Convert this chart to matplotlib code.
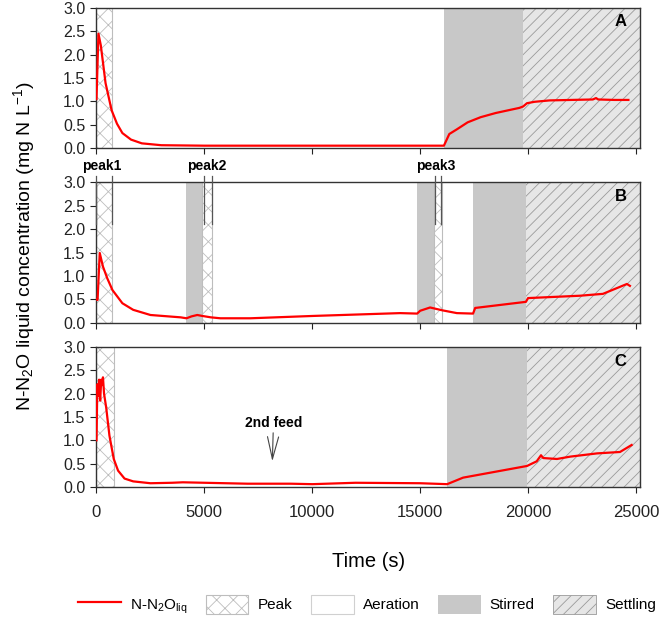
import matplotlib.pyplot as plt
from matplotlib.patches import Patch
from matplotlib.lines import Line2D

plt.rcParams['font.family'] = ['Liberation Sans', 'DejaVu Sans']
plt.rcParams['mathtext.fontset'] = 'custom'
plt.rcParams['mathtext.rm'] = 'Liberation Sans'
plt.rcParams['mathtext.it'] = 'Liberation Sans:italic'
plt.rcParams['hatch.linewidth'] = 0.6

# Panel A - N2O liquid concentration
time_a = [0, 90, 200, 420, 700, 950, 1200, 1600, 2100, 3000, 5000,
          8000, 12000, 16100, 16200, 16350, 16700, 17200, 17800, 18500, 19000, 19600,
          19770, 19950, 20300, 21000, 22000, 23000, 23150, 23250, 24000, 24650]
conc_a = [1.05, 2.45, 2.2, 1.39, 0.81, 0.52, 0.32, 0.18, 0.1, 0.06, 0.05,
          0.05, 0.05, 0.05, 0.15, 0.3, 0.4, 0.55, 0.66, 0.75, 0.8, 0.86,
          0.89, 0.96, 0.99, 1.02, 1.03, 1.04, 1.07, 1.04, 1.03, 1.03]

# Panel B
time_b = [0, 50, 150, 300, 500, 740, 1200, 1700, 2500, 3900, 4170, 4400, 4670, 4900,
          5300, 5740, 7130, 10050, 14070, 14860, 15000, 15460, 16020, 16700, 17450,
          17550, 19900, 20000, 22400, 23470, 24580, 24720]
conc_b = [0.5, 0.49, 1.49, 1.2, 0.95, 0.7, 0.42, 0.28, 0.17, 0.12, 0.1, 0.14, 0.17, 0.15,
          0.12, 0.1, 0.1, 0.15, 0.21, 0.2, 0.26, 0.33, 0.27, 0.21, 0.2,
          0.32, 0.45, 0.53, 0.58, 0.62, 0.83, 0.79]

# Panel C
time_c = [0, 40, 80, 120, 170, 220, 270, 300, 350, 450, 600, 800, 1000, 1300, 1700,
          2500, 3500, 4000, 5000, 7000, 9000, 10000, 12000, 15000, 16250, 16990, 19950,
          20400, 20600, 20700, 21340, 21950, 23200, 24260, 24800]
conc_c = [1.0, 2.2, 1.95, 2.3, 1.85, 2.3, 2.2, 2.35, 2.0, 1.7, 1.1, 0.6, 0.35, 0.18, 0.12,
          0.08, 0.09, 0.1, 0.09, 0.07, 0.07, 0.06, 0.09, 0.08, 0.06, 0.2, 0.45,
          0.55, 0.68, 0.62, 0.6, 0.65, 0.72, 0.75, 0.9]

# Phase boundaries (s)
phases_a = [("Peak", 0, 700), ("Stirred", 16110, 19770), ("Settling", 19770, 25200)]
phases_b = [("Peak", 0, 740), ("Stirred", 4170, 4900), ("Peak", 4900, 5370),
            ("Stirred", 14860, 15650), ("Peak", 15650, 16020),
            ("Stirred", 17450, 19900), ("Settling", 19900, 25200)]
phases_c = [("Peak", 0, 800), ("Stirred", 16250, 19950), ("Settling", 19950, 25200)]

peak_labels = ["peak1", "peak2", "peak3"]
peak_marks = [(0, 700), (5000, 5370), (15690, 15970)]

styles = {
    "Peak": dict(facecolor="white", edgecolor="#BDBDBD", hatch="xx", linewidth=0.8),
    "Aeration": dict(facecolor="white", edgecolor="#D0D0D0", linewidth=0.8),
    "Stirred": dict(facecolor="#C8C8C8", edgecolor="#C8C8C8", linewidth=0),
    "Settling": dict(facecolor="#E6E6E6", edgecolor="#9A9A9A", hatch="///", linewidth=0),
}

fig = plt.figure(figsize=(6.61, 6.24), dpi=100)
left, width = 0.145, 0.823
ax_a = fig.add_axes([left, 0.7628, width, 0.2244])
ax_b = fig.add_axes([left, 0.4824, width, 0.2259])
ax_c = fig.add_axes([left, 0.2196, width, 0.2243])

panels = [(ax_a, time_a, conc_a, phases_a, "A"),
          (ax_b, time_b, conc_b, phases_b, "B"),
          (ax_c, time_c, conc_c, phases_c, "C")]

for ax, t, c, phases, letter in panels:
    for name, x0, x1 in phases:
        ax.axvspan(x0, x1, zorder=0, **styles[name])
    ax.plot(t, c, color="red", lw=1.6, zorder=3)
    ax.set_xlim(-30, 25180)
    ax.set_ylim(0, 3.0)
    ax.set_yticks([0, 0.5, 1.0, 1.5, 2.0, 2.5, 3.0])
    ax.set_yticklabels(["0.0", "0.5", "1.0", "1.5", "2.0", "2.5", "3.0"])
    ax.set_xticks([0, 5000, 10000, 15000, 20000, 25000])
    ax.tick_params(direction="out", length=4, width=0.8, labelsize=11.5, colors="#222222")
    for sp in ax.spines.values():
        sp.set_linewidth(1.0)
        sp.set_color("#333333")
    ax.text(0.965, 0.9, letter, transform=ax.transAxes, ha="center", va="center",
            fontsize=12, fontweight="bold")

ax_a.set_xticklabels([])
ax_b.set_xticklabels([])
ax_c.tick_params(axis="x", labelsize=12, pad=9)

# peak annotations above panel B
for lab, (x0, x1) in zip(peak_labels, peak_marks):
    ax_b.text((x0 + x1) / 2 - 100, 3.2, lab, ha="center", va="bottom",
              fontsize=10, fontweight="bold")
    for xv in (x0, x1):
        ax_b.plot([xv, xv], [3.12, 2.1], color="#555555", lw=0.9, clip_on=False, zorder=4)

# second feed arrow in panel C
ax_c.annotate("2nd feed", xy=(8150, 0.55), xytext=(8200, 1.22),
              ha="center", va="bottom", fontsize=10, fontweight="bold",
              arrowprops=dict(arrowstyle="->,head_length=1.6,head_width=0.4",
                              color="#444444", lw=0.8, shrinkA=0, shrinkB=0))

fig.text(0.037, 0.605, "N-N$_2$O liquid concentration (mg N L$^{-1}$)", rotation=90,
         ha="center", va="center", fontsize=14)
fig.text(0.557, 0.1, "Time (s)", ha="center", va="center", fontsize=14.5)

handles = [Line2D([], [], color="red", lw=1.6),
           Patch(**styles["Peak"]),
           Patch(**styles["Aeration"]),
           Patch(**styles["Stirred"]),
           Patch(facecolor="#E6E6E6", edgecolor="#9A9A9A", hatch="///", linewidth=0.6)]
labels = ["N-N$_2$O$_{\\rm liq}$", "Peak", "Aeration", "Stirred", "Settling"]
fig.legend(handles, labels, loc="center", bbox_to_anchor=(0.555, 0.03), ncol=5,
           frameon=False, fontsize=11, handlelength=2.8, handleheight=1.6,
           columnspacing=1.2, handletextpad=0.6)

fig.savefig("out.png", dpi=100)
